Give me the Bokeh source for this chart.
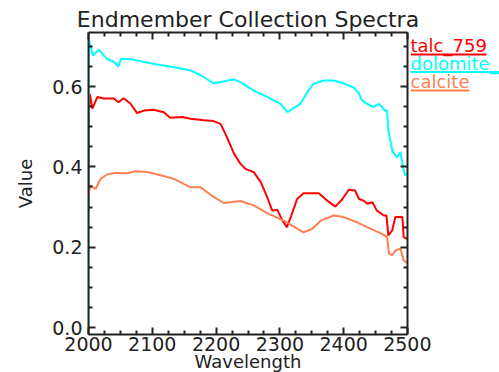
from bokeh.plotting import figure
from bokeh.layouts import column, row
from bokeh.models import Range1d, LinearAxis, FixedTicker, PrintfTickFormatter
from bokeh.core.properties import value
from bokeh.embed import file_html
from bokeh.resources import INLINE

# ---- data ----
talc_w = [2000, 2001, 2002, 2006, 2014, 2024, 2040, 2047, 2055, 2066, 2076, 2087, 2102, 2118,
          2128, 2147, 2160, 2181, 2196, 2207, 2217, 2228, 2238, 2246, 2259, 2270, 2280, 2288,
          2296, 2304, 2311, 2317, 2327, 2337, 2361, 2374, 2387, 2398, 2408, 2418, 2424, 2431,
          2437, 2445, 2452, 2463, 2467, 2470, 2476, 2481, 2492, 2494, 2500]
talc_v = [0.29, 0.55, 0.582, 0.545, 0.574, 0.570, 0.570, 0.561, 0.571, 0.557, 0.534, 0.540,
          0.542, 0.536, 0.522, 0.524, 0.520, 0.516, 0.514, 0.507, 0.474, 0.433, 0.408, 0.395,
          0.387, 0.362, 0.325, 0.291, 0.293, 0.266, 0.250, 0.275, 0.320, 0.334, 0.334, 0.316,
          0.301, 0.320, 0.343, 0.341, 0.320, 0.316, 0.308, 0.312, 0.291, 0.279, 0.279, 0.229,
          0.242, 0.275, 0.275, 0.225, 0.22]

dolo_w = [2000, 2000.5, 2007, 2016, 2029, 2040, 2047, 2051, 2071, 2087, 2108, 2128, 2147,
          2160, 2176, 2189, 2196, 2207, 2228, 2238, 2259, 2280, 2301, 2312, 2322, 2332, 2343,
          2353, 2369, 2384, 2400, 2416, 2424, 2429, 2437, 2447, 2455, 2465, 2468, 2470, 2476,
          2481, 2484, 2489, 2492, 2496, 2500]
dolo_v = [0.0, 0.717, 0.677, 0.692, 0.669, 0.661, 0.650, 0.669, 0.667, 0.661, 0.655, 0.650,
          0.644, 0.640, 0.628, 0.615, 0.608, 0.611, 0.618, 0.611, 0.590, 0.574, 0.557, 0.536,
          0.547, 0.557, 0.586, 0.607, 0.615, 0.615, 0.608, 0.597, 0.582, 0.565, 0.557, 0.549,
          0.557, 0.540, 0.540, 0.491, 0.441, 0.428, 0.424, 0.437, 0.408, 0.379, 0.385]

calc_w = [2000, 2003, 2011, 2019, 2029, 2042, 2061, 2074, 2092, 2113, 2134, 2160, 2176, 2196,
          2212, 2238, 2259, 2280, 2306, 2322, 2337, 2351, 2364, 2384, 2400, 2421, 2442, 2460,
          2468, 2471, 2476, 2481, 2489, 2494, 2500]
calc_v = [0.33, 0.354, 0.345, 0.370, 0.381, 0.385, 0.384, 0.389, 0.387, 0.379, 0.370, 0.349,
          0.349, 0.325, 0.310, 0.315, 0.304, 0.285, 0.266, 0.251, 0.237, 0.246, 0.266, 0.279,
          0.275, 0.262, 0.246, 0.233, 0.225, 0.184, 0.180, 0.192, 0.196, 0.167, 0.16]

series_names = ["talc_759", "dolomite_1", "calcite"]
series_colors = ["#ff0000", "#00ffff", "#ff7f50"]

x_ticks = [2000, 2100, 2200, 2300, 2400, 2500]
x_minor = [2025, 2050, 2075, 2125, 2150, 2175, 2225, 2250, 2275, 2325, 2350, 2375, 2425, 2450, 2475]
y_ticks = [0.0, 0.2, 0.4, 0.6]
y_minor = [0.05, 0.1, 0.15, 0.25, 0.3, 0.35, 0.45, 0.5, 0.55, 0.65, 0.7]

title_text = "Endmember Collection Spectra"
x_label = "Wavelength"
y_label = "Value"

# ---- layout constants (pixels) ----
FONT = "DejaVu Sans"
TXT = "#222222"
FW, FH = 319, 302
ML, MR, MT, MB = 88, 24, 1, 38
TITLE_H = 31
MAIN_W = ML + FW + MR
MAIN_H = MT + FH + MB
LEG_X = ML + FW + 3          # legend strip starts just right of the frame
LEG_W = 499 - LEG_X
BASE_FIX = 7                 # observed downward shift of alphabetic baseline in svg text

# ---- title strip (y measured upward from its bottom edge) ----
tf = figure(width=499, height=TITLE_H, x_range=Range1d(0, 499), y_range=Range1d(0, TITLE_H),
            output_backend="svg", toolbar_location=None, min_border=0,
            x_axis_type=None, y_axis_type=None)
tf.grid.visible = False
tf.outline_line_color = None
tf.text(x=[ML + FW / 2], y=[TITLE_H - 26.5 + BASE_FIX + 0.5], text=[title_text],
        text_font=value(FONT), text_font_size="22px", text_color=TXT, text_align="center",
        text_baseline="alphabetic")

# ---- main plot ----
p = figure(frame_width=FW, frame_height=FH, x_range=Range1d(2000, 2500),
           y_range=Range1d(-0.0174, 0.7345),
           output_backend="svg", toolbar_location=None,
           min_border_left=ML, min_border_right=MR, min_border_top=MT, min_border_bottom=MB)
p.grid.visible = False
p.outline_line_color = None

for w, v, c in zip([talc_w, dolo_w, calc_w], [talc_v, dolo_v, calc_v], series_colors):
    p.line(w, v, line_color=c, line_width=2)

xt = FixedTicker(ticks=x_ticks, minor_ticks=x_minor)
yt = FixedTicker(ticks=y_ticks, minor_ticks=y_minor)

bottom = p.below[0]
left = p.left[0]
top = LinearAxis(ticker=xt, major_label_overrides={t: "" for t in x_ticks})
right = LinearAxis(ticker=yt, major_label_overrides={t: "" for t in y_ticks})
p.add_layout(top, "above")
p.add_layout(right, "right")
bottom.ticker = xt
left.ticker = yt
left.formatter = PrintfTickFormatter(format="%.1f")

for ax in [bottom, left, top, right]:
    ax.axis_line_width = 2
    ax.axis_line_color = TXT
    ax.major_tick_in = 7
    ax.major_tick_out = 0
    ax.minor_tick_in = 4
    ax.minor_tick_out = 0
    ax.major_tick_line_width = 2
    ax.minor_tick_line_width = 2
    ax.major_tick_line_color = TXT
    ax.minor_tick_line_color = TXT
    ax.major_label_text_font = FONT
    ax.major_label_text_font_size = "19px"
    ax.major_label_text_color = TXT

for ax in [top, right]:
    ax.major_label_standoff = 0

bottom.major_label_standoff = 2
left.major_label_standoff = 6
bottom.axis_label = x_label
left.axis_label = y_label
for ax in [bottom, left]:
    ax.axis_label_text_font = FONT
    ax.axis_label_text_font_size = "18px"
    ax.axis_label_text_font_style = "normal"
    ax.axis_label_text_color = TXT
bottom.axis_label_standoff = -3
left.axis_label_standoff = 13

# ---- legend strip (overlaps the plot's empty right border; transparent) ----
lf = figure(width=LEG_W, height=MAIN_H, x_range=Range1d(0, LEG_W), y_range=Range1d(0, MAIN_H),
            output_backend="svg", toolbar_location=None, min_border=0,
            x_axis_type=None, y_axis_type=None)
lf.grid.visible = False
lf.outline_line_color = None
lf.background_fill_color = None
lf.border_fill_color = None
lf.margin = (0, 0, 0, LEG_X - MAIN_W)
leg_base = [22, 42, 63]          # wanted baseline, px from top of strip
leg_len = [76, 120, 59]
lf.text(x=[0, 0, 0], y=[MAIN_H - b + BASE_FIX for b in leg_base], text=series_names,
        text_color=series_colors, text_font=value(FONT), text_font_size="18px",
        text_baseline="alphabetic")
lf.segment(x0=[0, 0, 0], x1=leg_len, y0=[MAIN_H - b - 3 for b in leg_base],
           y1=[MAIN_H - b - 3 for b in leg_base], line_color=series_colors, line_width=2)

layout = column(tf, row(p, lf, spacing=0), spacing=0)
open("out.html", "w").write(file_html(layout, INLINE))
